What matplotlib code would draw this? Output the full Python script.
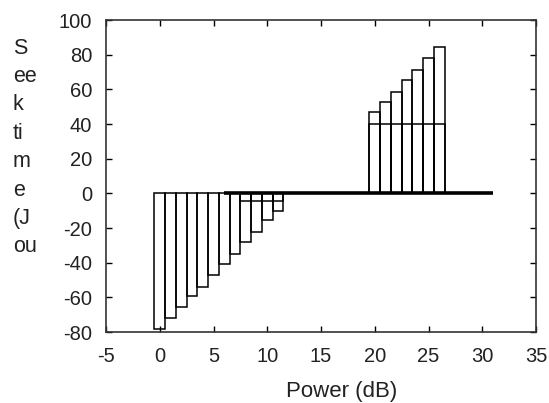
import matplotlib

matplotlib.use("Agg")
import matplotlib.pyplot as plt

plt.rcParams["font.family"] = ["Liberation Sans", "DejaVu Sans"]
plt.rcParams["axes.unicode_minus"] = False

# falling series (negative seek times)
neg_x = [0, 1, 2, 3, 4, 5, 6, 7, 8, 9, 10, 11]
neg_y = [-78, -72, -65.5, -59.5, -54, -47, -41, -35, -28.2, -22.4, -15.4, -10]

# small second series near zero
small_x = [8, 9, 10, 11]
small_y = [-4.3, -4.3, -4.3, -4.3]

# rising series
pos_x = [20, 21, 22, 23, 24, 25, 26]
pos_y = [47, 52.9, 58.7, 65.4, 71.2, 78, 84.3]

# flat series under the rising one
flat_x = [20, 21, 22, 23, 24, 25, 26]
flat_y = [40, 40, 40, 40, 40, 40, 40]

# thick zero line
zero_x = [6, 31]
zero_y = [0, 0]

xticks = [-5, 0, 5, 10, 15, 20, 25, 30, 35]
yticks = [-80, -60, -40, -20, 0, 20, 40, 60, 80, 100]
ylabel_lines = ["S", "ee", "k", "ti", "m", "e", "(J", "ou"]

W, H = 549, 403
fig = plt.figure(figsize=(W / 100, H / 100), dpi=100)
ax = fig.add_axes([106 / W, 1 - 332 / H, (536 - 106) / W, (332 - 20) / H])

bar_style = dict(width=1.0, fill=False, edgecolor="black", linewidth=1.1)
ax.bar(neg_x, neg_y, **bar_style)
ax.bar(small_x, small_y, **bar_style)
ax.bar(pos_x, pos_y, **bar_style)
ax.bar(flat_x, flat_y, **bar_style)
ax.plot(zero_x, zero_y, color="black", linewidth=2.6, solid_capstyle="butt")

ax.set_xlim(-5, 35)
ax.set_ylim(-80, 100)
ax.set_xticks(xticks)
ax.set_yticks(yticks)
ax.tick_params(direction="in", length=4, width=1, top=True, right=True,
               labelsize=14.5, colors="black", labelcolor="#222222")
ax.tick_params(axis="x", pad=11)
ax.tick_params(axis="y", pad=10)
for s in ax.spines.values():
    s.set_linewidth(1.2)
    s.set_color("#333333")

fig.text(342 / W, 1 - 392 / H, "Power (dB)", ha="center", va="center",
         fontsize=16, color="#222222")

for i, line in enumerate(ylabel_lines):
    fig.text(13 / W, 1 - (48 + i * 28.4) / H, line, ha="left", va="center",
             fontsize=15.5, color="#222222")

fig.savefig("out.png", dpi=100)
plt.close(fig)
